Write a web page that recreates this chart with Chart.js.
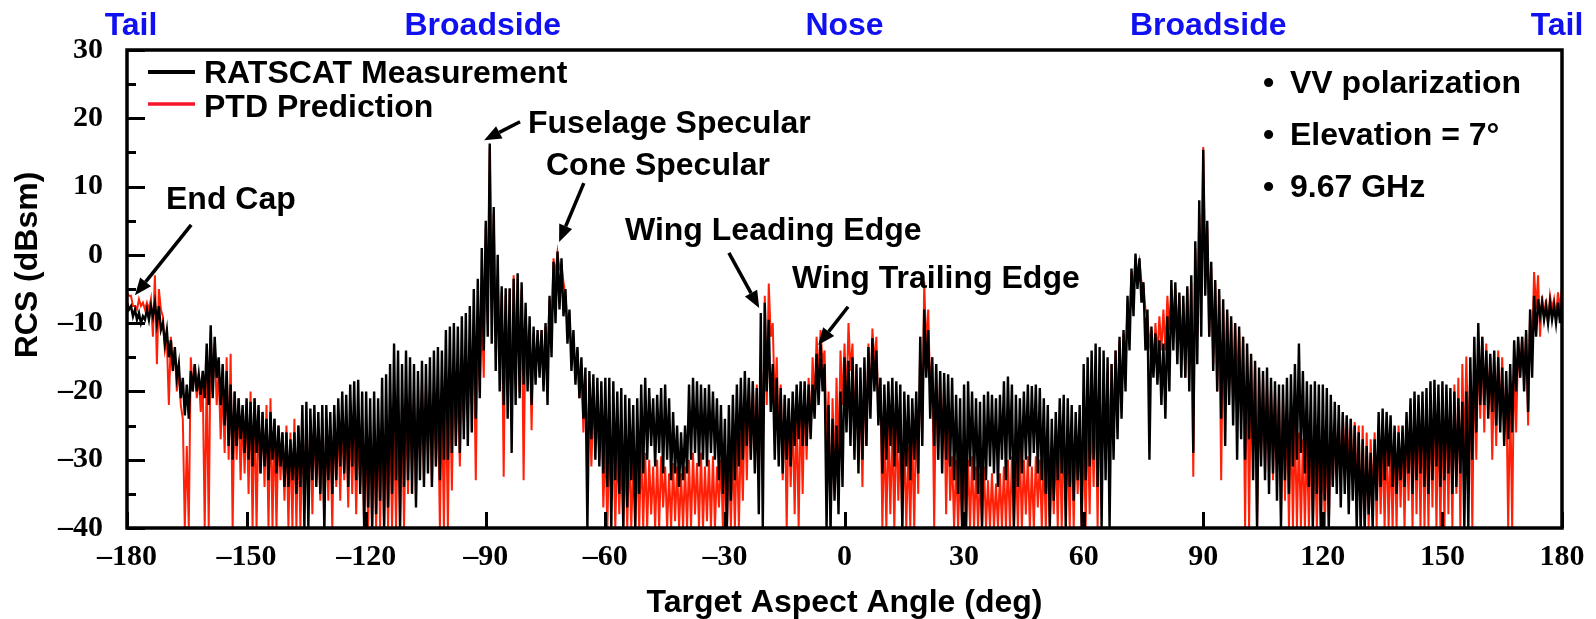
<!DOCTYPE html>
<html>
<head>
<meta charset="utf-8">
<script src="https://cdn.jsdelivr.net/npm/chart.js@4.4.1/dist/chart.umd.min.js"></script>
<style>
  html, body { margin: 0; padding: 0; background: #fff; }
  #wrap { width: 1596px; height: 619px; }
</style>
</head>
<body>
<div id="wrap"><canvas id="c" width="1596" height="619"></canvas></div>
<script>
// Aspect-angle sampling grid: one sample per degree, -180 ... 180
const angles = Array.from({ length: 361 }, (_, i) => -180 + i);

// RATSCAT measurement: upper and lower excursion of the trace within each degree (dBsm)
const measHigh = [
  -7,-7.5,-8,-8.5,-9,-8,-7.5,-7,-7.5,-10,
  -11,-12.5,-13.5,-16,-18,-19,-17,-16,-17.5,-17,
  -13,-10.3,-12,-15,-16,-17,-19,-20,-21,-22,
  -21,-21.5,-21,-22,-23,-24,-23,-24,-25,-26,
  -26,-27,-26,-25,-22,-21.5,-22.5,-22,-23,-22,
  -22,-23,-22,-21,-20,-20.5,-19,-18.5,-18.3,-20,
  -20,-21,-20,-21,-18,-17.5,-16,-13,-14,-16,
  -14,-15,-16,-17,-15.5,-16,-15,-14,-13.5,-14,
  -11,-10.5,-10,-10.5,-9,-8.5,-7.5,-5,-3.5,1,
  5,16.3,7,0,-4.6,-4.9,-4.9,-3.5,-2.7,-4,
  -7,-9,-10.5,-11,-11,-10,-6,-1,0.5,-0.5,
  -5,-8,-11,-13.5,-15,-16.5,-17,-17.5,-18,-18.5,
  -18,-18,-18.5,-20,-19.5,-20.5,-21,-22,-21,-19,
  -18,-19.5,-21,-20.5,-19.5,-19,-21,-23,-25,-26,
  -25,-19,-18,-18.5,-19,-19.5,-19,-20,-21,-22,
  -24,-22,-20.5,-19,-18,-17,-18,-18.5,-19.5,-8.5,
  -7,-9.5,-16,-18,-19.5,-20.5,-21,-20,-19,-18.5,
  -18.5,-19,-19,-14.5,-13,-16,-22,-24,-25,-20,
  -15,-15.5,-15,-16,-16.5,-15,-13.5,-12.2,-14,-18,
  -19,-18.5,-18,-18.5,-19,-20,-20.5,-21,-20,-12,
  -8,-11,-15,-16,-17,-17.3,-17.5,-18,-20.5,-21,
  -19,-18.5,-20,-21,-21.5,-20.5,-20,-20.5,-21,-20.5,
  -18.5,-17.8,-19,-20.5,-21,-20,-19,-19.2,-19,-19.5,
  -21,-22,-24,-23,-21,-20.5,-21,-22,-23,-22,
  -16,-15,-14,-13,-13.5,-14,-15,-16,-14,-12,
  -11,-6,-2,0.2,-0.5,-4,-8,-10.5,-11.5,-12.5,
  -13,-9,-3.7,-4,-5.5,-6,-4.6,-3,2,8,
  15.4,5,-1,-3.7,-5,-6.5,-8,-9,-10,-10.5,
  -12,-13,-14.5,-15.5,-16.5,-17,-16.5,-18,-18.5,-19,
  -19,-18,-17.5,-16,-13,-17,-18.5,-19,-18.5,-19,
  -19,-19.5,-20.5,-21.5,-22,-23,-23.5,-24,-25,-26,
  -27,-28,-29,-27,-23,-22.5,-23,-23.5,-25,-26,
  -25,-23,-21,-20,-20.5,-20,-19.5,-18.5,-18.3,-19,
  -18.5,-19,-19.5,-20,-21,-21.5,-20,-15,-12,-10,
  -12,-14,-14.5,-14,-15,-16.5,-17,-16,-12.5,-12,
  -12,-11,-8,-6,-6.5,-7,-7.5,-7,-7.5,-7,-7
];
const measLow = [
  -8,-9,-9.5,-10,-9.5,-9.5,-9,-10,-11,-13,
  -15,-17,-18,-21,-23.5,-24,-20,-20,-20.5,-21,
  -22,-21,-18,-22,-25,-28,-30,-28,-27,-29,
  -30,-31,-29,-32,-31,-33,-30,-32,-31,-34,
  -34,-33,-35,-34,-40,-40,-33,-34,-35,-40,
  -33,-35,-33,-31,-32,-34,-31,-33,-35,-40,
  -37,-40,-38,-36,-40,-37,-35,-33,-40,-34,
  -33,-35,-37,-33,-34,-32,-34,-31,-33,-30,
  -30,-29,-28,-29,-27,-28,-26,-24,-21,-14,
  -12,-13,-17,-20,-22,-24,-29,-22,-21,-19,
  -20,-22,-19,-18,-20,-22,-15,-10,-8,-9,
  -13,-17,-19,-21,-24,-40,-27,-30,-31,-32,
  -34,-40,-33,-35,-40,-37,-33,-40,-35,-32,
  -30,-28,-31,-29,-32,-30,-33,-32,-34,-33,
  -32,-30,-29,-31,-30,-31,-29,-30,-33,-35,
  -40,-36,-33,-31,-30,-28,-30,-32,-38,-40,
  -20,-23,-30,-31,-32,-30,-31,-28,-27,-28,
  -28,-27,-24,-22,-20,-40,-40,-36,-38,-34,
  -26,-28,-30,-32,-30,-28,-24,-20,-25,-32,
  -30,-28,-31,-29,-40,-31,-33,-30,-32,-28,
  -18,-24,-28,-30,-32,-30,-31,-33,-35,-40,
  -40,-31,-33,-35,-40,-33,-31,-32,-34,-30,
  -33,-30,-40,-34,-32,-30,-31,-29,-32,-33,
  -35,-40,-36,-33,-32,-40,-34,-36,-33,-40,
  -33,-31,-30,-34,-40,-33,-40,-30,-27,-24,
  -20,-14,-9,-5,-7,-14,-30,-18,-19,-22,
  -24,-20,-14,-16,-18,-18,-20,-29,-16,-12,
  -6,-12,-17,-20,-24,-28,-22,-25,-30,-27,
  -30,-27,-33,-40,-31,-33,-35,-32,-36,-40,
  -33,-35,-31,-30,-29,-32,-34,-40,-35,-40,
  -36,-40,-34,-35,-37,-35,-38,-36,-40,-40,
  -40,-38,-40,-36,-34,-33,-31,-34,-35,-33,
  -34,-32,-35,-33,-32,-34,-35,-33,-31,-34,
  -33,-32,-35,-34,-32,-40,-40,-30,-26,-22,
  -22,-24,-23,-25,-26,-28,-27,-26,-20,-18,
  -20,-23,-18,-12,-9,-9.5,-10,-9.5,-10,-10,-8
];

// PTD prediction: upper and lower excursion within each degree (dBsm)
const predHigh = [
  -5.6,-6,-7.5,-6.5,-7,-7,-6.5,-3,-5,-9,
  -12.5,-12,-14,-17,-24,-28,-15,-16,-17.5,-19,
  -17,-11.5,-13,-17,-19,-15,-14.5,-20,-21,-23,
  -22,-20,-21,-23,-23,-22,-21,-24,-25,-26,
  -25,-26,-24,-25,-27,-25,-24,-25,-26,-24,
  -24,-25,-23.5,-24,-23.5,-24,-23.5,-24,-25,-24,
  -26,-25,-27,-25,-24,-26,-24,-25,-23,-22,
  -21,-22,-20,-22,-19.5,-19,-20,-19,-21,-20,
  -19,-18,-17,-18,-17.5,-15,-12.5,-11,-10.5,-7,
  4,15.8,6,-3,-5.5,-6,-5,-3,-3.5,-5,
  -9,-11,-11.5,-12,-11,-10.5,-6.5,-0.5,0.3,-1.5,
  -6,-9,-12,-14,-16,-18,-20,-21,-22,-23,
  -27,-26.5,-28,-27,-28.5,-29,-28,-30,-29,-28,
  -29,-30,-31,-30,-29.5,-31,-32,-30.5,-31,-32,
  -31,-30,-29,-30.5,-29,-31,-30,-29.5,-31,-30,
  -31,-29,-28,-27,-26,-21,-19,-18.5,-19,-15,
  -6,-4.2,-10,-15,-19,-21,-22,-23,-22,-21,
  -20,-18,-15,-12,-11,-14,-20,-21,-18,-14,
  -13,-10,-13,-18,-20,-17,-13,-10.8,-12,-18,
  -25,-24,-25,-24,-26,-27,-28,-26,-22,-12,
  -3.9,-8,-15,-16,-17,-19,-23,-29.5,-30,-31,
  -31,-30,-29.5,-31,-32,-31,-33,-32,-33.5,-32,
  -31,-30,-29.5,-30,-28.5,-30,-29.5,-31,-29.5,-30,
  -29,-28,-28.5,-27,-26,-26.5,-27,-25.5,-26,-25,
  -24,-23,-22,-20,-19,-18,-17,-16,-14,-12.5,
  -11.5,-7,-2.5,-0.5,-1,-4.5,-9,-11,-10,-9,
  -8,-6,-5,-5,-6,-7,-5,-4,1,6,
  15.8,4,-2,-4,-6,-8,-8.5,-9.5,-10,-11,
  -12,-14,-15,-16,-17.5,-18,-19,-19.5,-20,-20.5,
  -21,-22,-23,-24,-26,-27,-27,-26,-28,-27,
  -28,-27,-26,-25,-24,-23.5,-23.7,-24,-24.5,-25,
  -25,-26,-27,-26,-25,-27,-26,-27.5,-26,-25,
  -26,-24,-22,-21.2,-22,-21.5,-23,-21,-20.5,-22,
  -22,-20,-21,-19,-18,-16,-14.9,-17,-15,-13,
  -12,-13,-15,-16,-14,-15,-18,-20,-14,-12.5,
  -12,-11.5,-8,-2.5,-3,-6,-6.5,-6,-6.5,-5.5,-4.6
];
const predLow = [
  -6,-7.5,-8,-7.5,-8,-8,-12,-16,-8,-14,
  -22,-16,-20,-22,-40,-40,-20,-21,-23,-40,
  -40,-20,-22,-27,-29,-30,-40,-30,-33,-32,
  -35,-40,-40,-32,-34,-40,-40,-40,-33,-36,
  -40,-40,-40,-40,-34,-36,-38,-33,-36,-40,
  -36,-40,-34,-36,-33,-37,-35,-38,-34,-40,
  -40,-40,-40,-40,-40,-40,-40,-40,-40,-40,
  -35,-32,-36,-30,-33,-29,-34,-31,-40,-40,
  -40,-34.5,-28,-31,-25,-24,-22,-33,-20,-18,
  -10,-8,-12,-15,-32.5,-18,-25,-16,-20,-33,
  -14,-25.7,-17,-16,-19,-14,-10,-3,-2,-4,
  -10,-14,-18,-21,-26,-28,-31,-27,-30,-37,
  -40,-36,-40,-38,-40,-40,-40,-40,-40,-40,
  -40,-38,-40,-40,-37,-40,-40,-39,-40,-40,
  -40,-40,-38,-40,-40,-39,-40,-40,-37,-40,
  -40,-40,-40,-40,-36,-33,-30,-29,-33,-30,
  -22,-12,-22,-27,-33,-40,-34,-38,-40,-35,
  -30,-26,-22,-18,-16,-28,-40,-33,-30,-22,
  -22,-17,-24,-30,-34,-28,-22,-16,-24,-40,
  -40,-38,-40,-36,-40,-40,-40,-40,-35,-28,
  -14,-20,-40,-30,-28,-38,-36,-40,-40,-40,
  -40,-40,-40,-40,-40,-40,-40,-40,-40,-40,
  -40,-40,-40,-40,-40,-38,-40,-40,-37,-40,
  -40,-40,-38,-40,-40,-36,-40,-40,-35,-40,
  -40,-38,-34,-40,-32,-30,-28,-27,-24,-22,
  -16,-10,-5,-3,-4,-8,-13,-17,-15,-14,
  -14,-11,-10,-12,-14,-18,-15,-32.5,-12,-6,
  -4,-12,-16,-20,-33,-18,-20,-22,-19,-24,
  -40,-40,-28,-40,-30,-32,-28,-33,-30,-38,
  -36,-40,-40,-40,-40,-40,-40,-40,-40,-40,
  -40,-40,-34,-33,-32,-30,-31,-33,-35,-40,
  -40,-40,-36,-40,-38,-40,-40,-40,-40,-37,
  -40,-36,-40,-38,-40,-40,-40,-37,-40,-40,
  -40,-38,-40,-35,-40,-30,-28,-40,-30,-24,
  -26,-22,-30,-28,-24,-26,-40,-40,-26,-18,
  -18,-25,-14,-8,-12,-9,-10,-8,-9,-8,-6
];

// Axis ticks and labels
const xTickValues = [-180, -150, -120, -90, -60, -30, 0, 30, 60, 90, 120, 150, 180];
const yTickValues = [-40, -30, -20, -10, 0, 10, 20, 30];
const aspectNames = [
  { angle: -180, text: 'Tail', dx: 4 },
  { angle: -90, text: 'Broadside', dx: -3 },
  { angle: 0, text: 'Nose', dx: 0 },
  { angle: 90, text: 'Broadside', dx: 5 },
  { angle: 180, text: 'Tail', dx: -5 }
];
const seriesNames = ['RATSCAT Measurement', 'PTD Prediction'];
const notes = ['VV polarization', 'Elevation = 7\u00b0', '9.67 GHz'];

// Callouts: label anchor (px) and arrow from tail to tip in (angle, dBsm)
const callouts = [
  { text: 'End Cap', tx: 166, ty: 209, from: [-163.9, 4.4], to: [-178.0, -5.9] },
  { text: 'Fuselage Specular', tx: 528, ty: 133, from: [-81.4, 19.5], to: [-90.4, 16.8] },
  { text: 'Cone Specular', tx: 546, ty: 175, from: [-65.4, 10.5], to: [-71.6, 1.9] },
  { text: 'Wing Leading Edge', tx: 625, ty: 240, from: [-29.0, 0.3], to: [-21.4, -7.8] },
  { text: 'Wing Trailing Edge', tx: 792, ty: 288, from: [0.9, -7.6], to: [-6.6, -13.2] }
];

// Each degree contributes its upper excursion followed by its lower one
function trace(high, low) {
  const pts = [];
  angles.forEach((a, i) => {
    pts.push({ x: a, y: high[i] });
    if (i < angles.length - 1) pts.push({ x: a + 0.5, y: low[i] });
  });
  return pts;
}

const BLACK = '#000000';
const RED = 'rgb(255,32,8)';
const BLUE = 'rgb(16,16,240)';
const SANS = '"Liberation Sans", Arial, sans-serif';
const SERIF = '"Liberation Serif", "Times New Roman", serif';

function arrow(ctx, x0, y0, x1, y1) {
  const ang = Math.atan2(y1 - y0, x1 - x0);
  const hl = 17, hw = 7;
  const bx = x1 - hl * Math.cos(ang), by = y1 - hl * Math.sin(ang);
  ctx.lineWidth = 3.5;
  ctx.beginPath(); ctx.moveTo(x0, y0); ctx.lineTo(bx, by); ctx.stroke();
  ctx.beginPath();
  ctx.moveTo(x1, y1);
  ctx.lineTo(bx - hw * Math.sin(ang), by + hw * Math.cos(ang));
  ctx.lineTo(bx + hw * Math.sin(ang), by - hw * Math.cos(ang));
  ctx.closePath(); ctx.fill();
}

const decorations = {
  id: 'decorations',
  afterDraw(chart) {
    const { ctx, chartArea: a, scales: { x, y } } = chart;
    ctx.save();
    ctx.strokeStyle = BLACK; ctx.fillStyle = BLACK;

    // inward tick marks
    ctx.lineWidth = 3;
    for (let v = -40; v <= 30; v += 5) {
      const py = Math.round(y.getPixelForValue(v)) + 0.5;
      const len = (v % 10 === 0) ? 18 : 9;
      ctx.beginPath(); ctx.moveTo(a.left, py); ctx.lineTo(a.left + len, py); ctx.stroke();
    }
    xTickValues.forEach(v => {
      const px = Math.round(x.getPixelForValue(v)) + 0.5;
      ctx.beginPath(); ctx.moveTo(px, a.bottom); ctx.lineTo(px, a.bottom - 16); ctx.stroke();
    });

    // plot frame
    ctx.lineWidth = 3.5;
    ctx.strokeRect(a.left, a.top, a.right - a.left, a.bottom - a.top);

    // legend
    ctx.lineWidth = 4; ctx.strokeStyle = BLACK;
    ctx.beginPath(); ctx.moveTo(148, 72); ctx.lineTo(195, 72); ctx.stroke();
    ctx.lineWidth = 3.5; ctx.strokeStyle = 'rgb(245,20,40)';
    ctx.beginPath(); ctx.moveTo(148, 104); ctx.lineTo(195, 104); ctx.stroke();
    ctx.strokeStyle = BLACK;
    ctx.font = 'bold 32px ' + SANS;
    ctx.textAlign = 'left'; ctx.textBaseline = 'alphabetic';
    ctx.fillText(seriesNames[0], 204, 83);
    ctx.fillText(seriesNames[1], 204, 117);

    // condition notes
    notes.forEach((t, i) => {
      const by = 93 + i * 52;
      ctx.fillText('\u2022', 1263, by);
      ctx.fillText(t, 1290, by);
    });

    // callouts
    callouts.forEach(c => {
      ctx.fillText(c.text, c.tx, c.ty);
      arrow(ctx,
        x.getPixelForValue(c.from[0]), y.getPixelForValue(c.from[1]),
        x.getPixelForValue(c.to[0]), y.getPixelForValue(c.to[1]));
    });

    // aspect names above the frame
    ctx.fillStyle = BLUE;
    ctx.textAlign = 'center';
    aspectNames.forEach(n => ctx.fillText(n.text, x.getPixelForValue(n.angle) + n.dx, 35));

    // axis titles
    ctx.fillStyle = BLACK;
    ctx.fillText('Target Aspect Angle (deg)', (a.left + a.right) / 2, 612);
    ctx.save();
    ctx.translate(28, 265);
    ctx.rotate(-Math.PI / 2);
    ctx.textBaseline = 'middle';
    ctx.fillText('RCS (dBsm)', 0, 0);
    ctx.restore();

    ctx.restore();
  }
};

const dash = v => String(v).replace('-', '\u2013');

new Chart(document.getElementById('c'), {
  type: 'line',
  data: {
    datasets: [
      {
        label: seriesNames[0],
        data: trace(measHigh, measLow),
        borderColor: BLACK,
        borderWidth: 2.4,
        pointRadius: 0,
        tension: 0
      },
      {
        label: seriesNames[1],
        data: trace(predHigh, predLow),
        borderColor: RED,
        borderWidth: 2,
        pointRadius: 0,
        tension: 0
      }
    ]
  },
  options: {
    responsive: false,
    devicePixelRatio: 1,
    animation: false,
    events: [],
    layout: { padding: { left: 0, right: 34, top: 50, bottom: 0 } },
    plugins: { legend: { display: false }, tooltip: { enabled: false } },
    scales: {
      x: {
        type: 'linear',
        min: -180, max: 180,
        grid: { display: false, drawTicks: false },
        border: { display: false },
        afterBuildTicks: s => { s.ticks = xTickValues.map(v => ({ value: v })); },
        afterFit: s => { s.height = 91; },
        ticks: {
          autoSkip: false, maxRotation: 0, padding: 11,
          color: BLACK,
          font: { family: SERIF, size: 30, weight: 'bold' },
          callback: dash
        }
      },
      y: {
        type: 'linear',
        min: -40, max: 30,
        grid: { display: false, drawTicks: false },
        border: { display: false },
        afterBuildTicks: s => { s.ticks = yTickValues.map(v => ({ value: v })); },
        afterFit: s => { s.width = 127; },
        ticks: {
          padding: 24,
          color: BLACK,
          font: { family: SERIF, size: 30, weight: 'bold' },
          callback: dash
        }
      }
    }
  },
  plugins: [decorations]
});
</script>
</body>
</html>
